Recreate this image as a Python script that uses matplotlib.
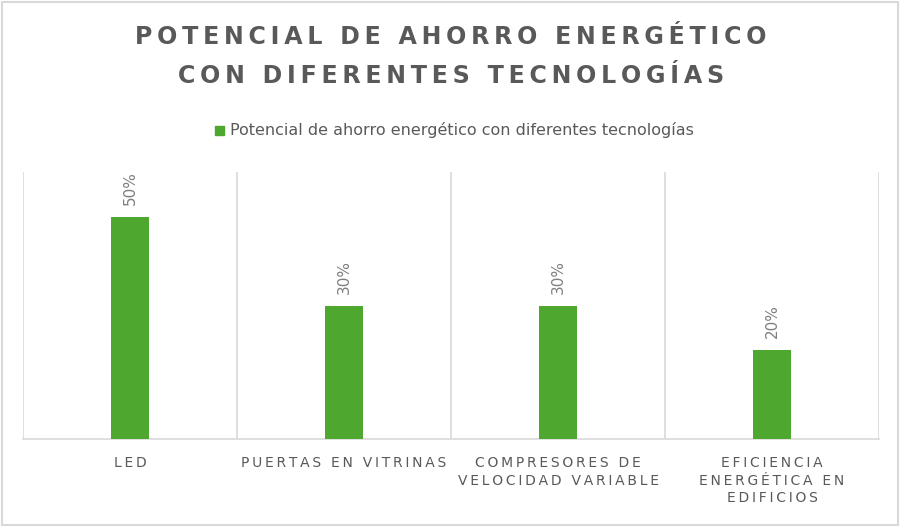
import numpy as np
import matplotlib.pyplot as plt
from matplotlib.patches import Rectangle

categorias = ["LED", "PUERTAS EN VITRINAS", "COMPRESORES DE\nVELOCIDAD VARIABLE",
              "EFICIENCIA\nENERGÉTICA EN\nEDIFICIOS"]
valores = [0.50, 0.30, 0.30, 0.20]
etiquetas = ["50%", "30%", "30%", "20%"]
titulo = ["POTENCIAL DE AHORRO ENERGÉTICO", "CON DIFERENTES TECNOLOGÍAS"]
serie = "Potencial de ahorro energético con diferentes tecnologías"

verde = "#4EA72E"
gris = "#595959"

def espaciado(s, sep="\u200a"):
    # simulate letter spacing with thin spaces
    return "\n".join(sep.join(list(linea)) for linea in s.split("\n"))

fig = plt.figure(figsize=(9.02, 5.27), dpi=100)
fig.patches.append(Rectangle((0.002, 0.004), 0.994, 0.992, transform=fig.transFigure,
                             fill=False, edgecolor="#d9d9d9", linewidth=1.5))

ax = fig.add_axes([23/902, (527-439)/527, (879-23)/902, (439-172)/527])
x = np.arange(len(categorias))
ax.bar(x, valores, width=0.18, color=verde, zorder=3)
ax.set_xlim(-0.5, len(categorias) - 0.5)
ax.set_ylim(0, 0.6)
ax.set_yticks([])
for b in np.arange(-0.5, len(categorias), 1.0):
    ax.axvline(b, color="#d9d9d9", linewidth=1.2, zorder=1)
for s in ["top", "left", "right"]:
    ax.spines[s].set_visible(False)
ax.spines["bottom"].set_color("#d9d9d9")
ax.spines["bottom"].set_linewidth(1.2)
ax.set_xticks(x)
ax.set_xticklabels([espaciado(c, "\u2009") for c in categorias], fontsize=10,
                   color=gris, linespacing=1.35, va="top")
ax.tick_params(axis="x", length=0, pad=12)

for xi, v, t in zip(x, valores, etiquetas):
    ax.text(xi, v + 0.026, t, rotation=90, ha="center", va="bottom",
            fontsize=11, color="#7f7f7f")

fig.text(0.5, 1 - 37/527, espaciado(titulo[0], "\u2009"), ha="center", va="center",
         fontsize=17.1, fontweight="bold", color=gris)
fig.text(0.5, 1 - 76/527, espaciado(titulo[1], "\u2009"), ha="center", va="center",
         fontsize=17.1, fontweight="bold", color=gris)

fig.patches.append(Rectangle((215/902, 1 - 135/527), 9/902, 9/527,
                             transform=fig.transFigure, color=verde))
fig.text(230/902, 1 - 130/527, serie, ha="left", va="center", fontsize=11.5, color=gris)

fig.savefig("out.png", dpi=100)
